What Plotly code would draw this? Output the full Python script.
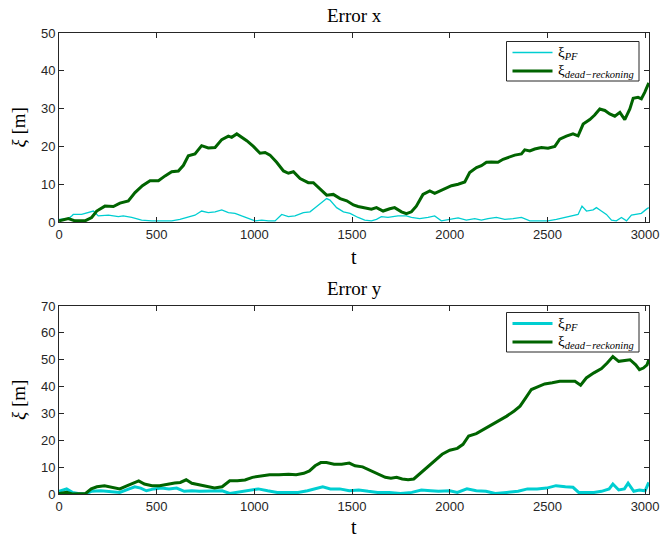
import plotly.graph_objects as go
from plotly.subplots import make_subplots

# ---- Error x: particle filter ----
t_pf_x = [0, 48, 65, 73, 116, 150, 176, 201, 253, 304, 329, 372, 423, 474, 526, 577,
          619, 662, 696, 730, 764, 799, 833, 867, 901, 935, 969, 1003, 1038, 1072, 1106,
          1140, 1174, 1208, 1251, 1285, 1311, 1345, 1370, 1387, 1421, 1456, 1490, 1531,
          1565, 1599, 1625, 1650, 1684, 1735, 1778, 1804, 1846, 1889, 1923, 1957, 2000,
          2043, 2085, 2128, 2162, 2196, 2239, 2282, 2324, 2367, 2410, 2452, 2503, 2546,
          2589, 2631, 2657, 2677, 2700, 2734, 2751, 2776, 2802, 2828, 2853, 2879, 2905,
          2930, 2956, 2981, 3007, 3019]
e_pf_x = [0.7, 0.9, 1.6, 2.0, 2.0, 2.5, 2.9, 1.6, 1.8, 1.4, 1.6, 1.2, 0.5, 0.3, 0.3, 0.3,
          0.7, 1.4, 1.8, 2.9, 2.5, 2.7, 3.2, 2.5, 2.3, 1.6, 0.9, 0.3, 0.5, 0.3, 0.3,
          2.0, 1.4, 1.6, 2.5, 2.7, 3.8, 5.1, 6.2, 5.8, 3.8, 2.7, 2.3, 1.2,
          0.5, 0.3, 0.7, 1.4, 1.2, 1.6, 1.6, 1.2, 0.9, 1.2, 1.6, 0.3, 0.7,
          1.1, 0.5, 0.9, 0.5, 0.9, 1.2, 0.7, 0.9, 1.2, 0.3, 0.3, 0.3, 0.7,
          1.2, 1.6, 2.0, 4.2, 2.9, 3.2, 3.8, 2.9, 2.0, 0.5, 0.3, 1.2, 0.3,
          1.8, 2.0, 2.3, 3.4, 3.8]

# ---- Error x: dead reckoning ----
t_dr_x = [0, 48, 82, 133, 167, 193, 235, 278, 312, 355, 389, 427, 466, 509, 543, 577, 611,
          637, 662, 696, 730, 764, 799, 833, 867, 884, 910, 935, 961, 995, 1029, 1055,
          1080, 1114, 1149, 1174, 1200, 1234, 1276, 1302, 1336, 1370, 1404, 1439, 1473,
          1507, 1531, 1565, 1599, 1625, 1659, 1693, 1718, 1753, 1778, 1804, 1829, 1863,
          1898, 1923, 1949, 1974, 2009, 2043, 2077, 2102, 2137, 2162, 2188, 2213, 2247,
          2273, 2299, 2333, 2367, 2384, 2410, 2435, 2469, 2503, 2538, 2563, 2597, 2631,
          2657, 2683, 2717, 2742, 2768, 2794, 2819, 2845, 2871, 2896, 2922, 2939, 2964,
          2981, 2998, 3019]
e_dr_x = [0.3, 0.9, 0.3, 0.3, 1.2, 2.9, 4.2, 4.1, 5.0, 5.6, 7.8, 9.6, 10.9, 10.9, 12.2, 13.3, 13.5,
          15.0, 17.5, 18.0, 20.2, 19.6, 19.7, 21.8, 22.7, 22.4, 23.3, 22.4, 21.5, 20.0, 18.2, 18.4,
          17.7, 15.8, 13.5, 12.9, 13.3, 11.5, 10.4, 10.4, 8.7, 7.1, 7.3, 6.2, 5.6,
          4.5, 4.1, 3.8, 3.4, 3.8, 2.9, 3.5, 3.8, 2.7, 2.2, 2.7, 4.2, 7.3,
          8.2, 7.6, 8.2, 8.7, 9.6, 10.0, 10.6, 13.1, 14.4, 14.9, 15.8, 15.9, 15.8,
          16.6, 17.1, 17.7, 18.0, 19.1, 18.8, 19.3, 19.7, 19.5, 20.0, 21.9, 22.7, 23.3,
          22.8, 25.9, 27.1, 28.3, 29.9, 29.5, 28.6, 28.0, 29.0, 27.1, 29.9, 32.7, 33.0,
          32.6, 34.3, 36.8]

# ---- Error y: particle filter ----
t_pf_y = [0, 39, 68, 97, 136, 165, 214, 262, 311, 359, 388, 418, 447, 486, 524, 563, 602,
          641, 680, 719, 777, 835, 874, 913, 971, 1020, 1068, 1117, 1165, 1223, 1272, 1311,
          1350, 1389, 1437, 1486, 1534, 1583, 1631, 1690, 1748, 1806, 1855, 1903, 1942,
          2000, 2039, 2088, 2136, 2185, 2233, 2292, 2350, 2398, 2447, 2496, 2544, 2592,
          2631, 2660, 2699, 2738, 2777, 2816, 2835, 2865, 2894, 2913, 2942, 2971, 3000, 3019]
e_pf_y = [1.0, 1.9, 0.6, 0.2, 0.0, 1.0, 1.2, 1.0, 0.6, 1.9, 2.7, 2.2, 1.2, 1.9, 2.2, 1.9, 2.2,
          1.0, 1.2, 1.0, 1.0, 1.2, 0.2, 0.6, 1.2, 1.9, 1.2, 0.6, 0.6, 0.6, 1.2, 1.9,
          2.7, 1.9, 1.9, 1.2, 1.5, 1.0, 0.6, 0.6, 0.2, 0.6, 1.5, 1.2, 1.0,
          1.2, 0.6, 1.9, 1.2, 1.0, 0.2, 0.6, 1.0, 1.9, 1.9, 2.2, 3.1, 2.7,
          2.5, 0.6, 0.6, 0.6, 1.0, 1.9, 3.7, 1.5, 1.9, 4.0, 1.0, 1.5, 1.2, 4.3]

# ---- Error y: dead reckoning ----
t_dr_y = [0, 39, 68, 97, 136, 165, 194, 233, 272, 311, 350, 388, 408, 437, 476, 515, 553,
          592, 621, 651, 680, 709, 738, 767, 796, 835, 874, 913, 952, 990, 1039, 1078,
          1126, 1175, 1214, 1253, 1282, 1311, 1340, 1369, 1408, 1447, 1486, 1515, 1554,
          1592, 1631, 1670, 1699, 1728, 1757, 1787, 1816, 1845, 1884, 1923, 1961, 2000,
          2039, 2068, 2097, 2136, 2175, 2214, 2253, 2292, 2330, 2360, 2389, 2418, 2447,
          2486, 2525, 2563, 2602, 2641, 2670, 2699, 2738, 2777, 2806, 2835, 2865, 2894,
          2923, 2952, 2971, 2991, 3010, 3019]
e_dr_y = [0.2, 0.6, 0.0, 0.2, 0.2, 1.9, 2.7, 3.1, 2.5, 1.9, 3.1, 4.3, 4.9, 3.7, 3.1, 3.1, 3.7,
          4.1, 4.3, 5.3, 4.0, 3.5, 3.1, 2.5, 2.2, 2.7, 4.9, 4.9, 5.2, 6.2, 6.8, 7.2,
          7.2, 7.4, 7.2, 7.7, 8.6, 10.5, 11.7, 11.7, 11.1, 11.1, 11.5, 10.5, 10.1,
          8.9, 7.4, 6.2, 5.9, 6.2, 5.6, 5.3, 5.6, 7.4, 9.9, 12.3, 14.8, 16.3,
          17.0, 18.5, 21.6, 22.5, 24.1, 25.7, 27.2, 29.0, 30.9, 32.7, 35.8, 38.9, 39.8,
          41.0, 41.4, 42.0, 42.0, 42.0, 40.5, 43.2, 45.1, 46.7, 48.8, 51.2, 49.4, 49.6,
          50.0, 48.1, 46.3, 46.9, 48.1, 50.0]

x_ticks = [0, 500, 1000, 1500, 2000, 2500, 3000]
y_ticks_x = [0, 10, 20, 30, 40, 50]
y_ticks_y = [0, 10, 20, 30, 40, 50, 60, 70]

CYAN = "rgb(0,206,209)"
GREEN = "rgb(0,100,0)"
AXC = "#262626"
SERIF = "Liberation Serif, Times New Roman, serif"
SANS = "Liberation Sans, Arial, sans-serif"

lbl_pf = "ξ<sub><i>PF</i></sub>"
lbl_dr = "ξ<sub><i>dead−reckoning</i></sub>"

W, H = 661, 539
M_L, M_R, M_T, M_B = 59, 12, 33, 45
PW, PH = W - M_L - M_R, H - M_T - M_B


def px(x):
    """Pixel column -> paper x."""
    return (x - M_L) / PW


def py(y):
    """Pixel row -> paper y."""
    return (H - M_B - y) / PH


fig = make_subplots(rows=2, cols=1, vertical_spacing=0.0)

fig.add_trace(go.Scatter(x=t_pf_x, y=e_pf_x, mode="lines", name=lbl_pf,
                         line=dict(color=CYAN, width=1.3)), row=1, col=1)
fig.add_trace(go.Scatter(x=t_dr_x, y=e_dr_x, mode="lines", name=lbl_dr,
                         line=dict(color=GREEN, width=3)), row=1, col=1)
fig.add_trace(go.Scatter(x=t_pf_y, y=e_pf_y, mode="lines", name=lbl_pf,
                         line=dict(color=CYAN, width=3)), row=2, col=1)
fig.add_trace(go.Scatter(x=t_dr_y, y=e_dr_y, mode="lines", name=lbl_dr,
                         line=dict(color=GREEN, width=3)), row=2, col=1)

axis_common = dict(showline=True, linecolor=AXC, linewidth=1, mirror="allticks",
                   ticks="inside", ticklen=5, tickcolor=AXC, tickwidth=1,
                   showgrid=False, zeroline=False, automargin=False,
                   tickfont=dict(family=SANS, size=13, color=AXC))

fig.update_xaxes(range=[0, 3020], tickvals=x_ticks, **axis_common)
fig.update_yaxes(**axis_common)
fig.update_layout(
    xaxis=dict(domain=[0, 1], anchor="y"),
    yaxis=dict(domain=[py(222), 1.0], range=[0, 50], tickvals=y_ticks_x),
    xaxis2=dict(domain=[0, 1], anchor="y2"),
    yaxis2=dict(domain=[0.0, py(306)], range=[0, 70], tickvals=y_ticks_y),
)

# Boxed legends, one per panel, drawn in the upper right corner
shapes = []
annotations = []
legend_boxes = [
    # (box top, box bottom, row y's, line widths)
    (41.5, 81, (52.5, 71), (1.5, 3)),
    (312.5, 352, (323.5, 342), (3, 3)),
]
for top, bot, rows, widths in legend_boxes:
    shapes.append(dict(type="rect", xref="paper", yref="paper",
                       x0=px(506.5), x1=px(639), y0=py(bot), y1=py(top),
                       line=dict(color=AXC, width=1), fillcolor="white", layer="above"))
    for yrow, lw, col, lbl in zip(rows, widths, (CYAN, GREEN), (lbl_pf, lbl_dr)):
        shapes.append(dict(type="line", xref="paper", yref="paper",
                           x0=px(512.5), x1=px(552.5), y0=py(yrow), y1=py(yrow),
                           line=dict(color=col, width=lw), layer="above"))
        annotations.append(dict(text=lbl, x=px(556), y=py(yrow), xanchor="left",
                                yanchor="middle", font=dict(family=SERIF, size=15, color="black")))

annotations += [
    dict(text="Error x", x=0.5, y=1.0, yshift=18, font=dict(family=SERIF, size=19, color="black")),
    dict(text="Error y", x=0.5, y=py(306), yshift=18, font=dict(family=SERIF, size=19, color="black")),
    dict(text="t", x=0.5, y=py(222), yshift=-35, font=dict(family=SERIF, size=20, color="black")),
    dict(text="t", x=0.5, y=0.0, yshift=-33, font=dict(family=SERIF, size=20, color="black")),
    dict(text="<i>ξ</i> [m]", x=0.0, y=(py(222) + 1) / 2, xshift=-41, textangle=-90,
         font=dict(family=SERIF, size=19, color="black")),
    dict(text="<i>ξ</i> [m]", x=0.0, y=py(306) / 2, xshift=-41, textangle=-90,
         font=dict(family=SERIF, size=19, color="black")),
]
for a in annotations:
    a.setdefault("xanchor", "center")
    a.setdefault("yanchor", "middle")
    a.update(xref="paper", yref="paper", showarrow=False)

fig.update_layout(
    shapes=shapes,
    annotations=annotations,
    width=W, height=H,
    margin=dict(l=M_L, r=M_R, t=M_T, b=M_B, autoexpand=False),
    paper_bgcolor="white", plot_bgcolor="white",
    showlegend=False,
)

fig.write_html("out.html")
